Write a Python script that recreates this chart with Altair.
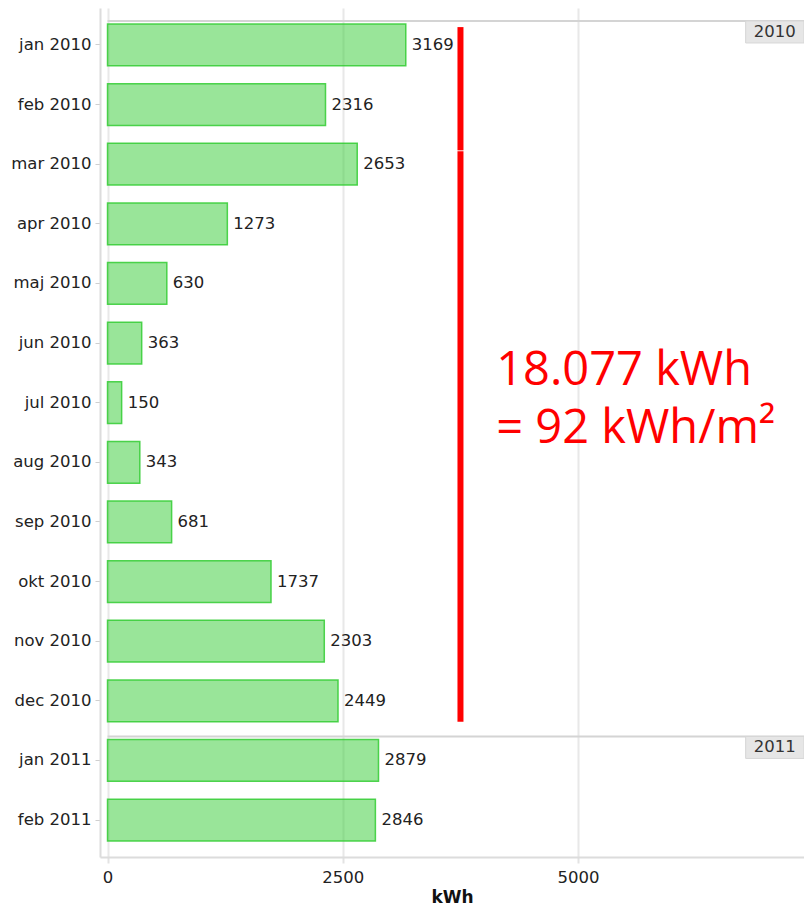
import altair as alt
import pandas as pd

months = ["jan 2010", "feb 2010", "mar 2010", "apr 2010", "maj 2010", "jun 2010",
          "jul 2010", "aug 2010", "sep 2010", "okt 2010", "nov 2010", "dec 2010",
          "jan 2011", "feb 2011"]
kwh = [3169, 2316, 2653, 1273, 630, 363, 150, 343, 681, 1737, 2303, 2449, 2879, 2846]

years = ["2010", "2011"]
year_first_month = ["jan 2010", "jan 2011"]

total_lines = ["18.077 kWh", "= 92 kWh/m²"]
total_span = ["jan 2010", "dec 2010"]

X_MIN, X_MAX = -80, 7400
W, H = 704, 849

df = pd.DataFrame({"month": months, "kwh": kwh})
ydf = pd.DataFrame({"year": years, "month": year_first_month})

xscale = alt.Scale(domain=[X_MIN, X_MAX], nice=False, zero=False)
yscale = alt.Scale(domain=months, paddingInner=0.3, paddingOuter=0.27)

FONT = "DejaVu Sans"
FS = 16.5

xaxis = alt.Axis(values=[0, 2500, 5000], format="d", grid=True, gridColor="#e8e8e8", gridWidth=2,
                 domainColor="#dcdcdc", domainWidth=2, tickColor="#e3e3e3", tickWidth=2,
                 tickSize=6, labelFont=FONT, labelFontSize=FS, labelColor="#222",
                 labelPadding=6, title="kWh", titleFont=FONT, titleFontSize=17,
                 titleFontWeight="bold", titleColor="#111", titlePadding=4)
yaxis = alt.Axis(title=None, grid=False, domainColor="#dcdcdc", domainWidth=2,
                 tickColor="#cfcfcf", tickSize=5, labelFont=FONT, labelFontSize=FS,
                 labelColor="#222", labelPadding=4)

base = alt.Chart(df)

bars = base.mark_bar(fill="#33cc33", fillOpacity=0.5, stroke="#33cc33",
                     strokeOpacity=0.85, strokeWidth=1.5).encode(
    y=alt.Y("month:N", scale=yscale, sort=months, axis=yaxis),
    x=alt.X("kwh:Q", scale=xscale, axis=xaxis),
    x2=alt.datum(0),
)

values = base.mark_text(align="left", baseline="middle", dx=6, font=FONT,
                        fontSize=FS, color="#222").encode(
    y=alt.Y("month:N", sort=months),
    x=alt.X("kwh:Q"),
    text=alt.Text("kwh:Q", format="d"),
)

sep = alt.Chart(ydf).mark_rule(color="#d4d4d4", strokeWidth=2, yOffset=-3).encode(
    y=alt.Y("month:N", sort=months, bandPosition=0),
    x=alt.datum(0),
    x2=alt.datum(X_MAX),
)

box = alt.Chart(ydf).mark_bar(height=22, yOffset=-13, fill="#e6e6e6",
                              stroke="#d6d6d6", strokeWidth=1).encode(
    y=alt.Y("month:N", sort=months),
    x=alt.datum(6780),
    x2=alt.datum(X_MAX),
)

box_text = alt.Chart(ydf).mark_text(align="center", baseline="middle", yOffset=-13,
                                    font=FONT, fontSize=FS, color="#333").encode(
    y=alt.Y("month:N", sort=months),
    x=alt.datum(7090),
    text="year:N",
)

span_df = pd.DataFrame({"start": [total_span[0]], "mid": ["mar 2010"], "end": [total_span[1]]})

red1 = alt.Chart(span_df).mark_rule(color="#ff0000", strokeWidth=6, yOffset=3, y2Offset=7).encode(
    x=alt.datum(3750),
    y=alt.Y("start:N", sort=months, bandPosition=0),
    y2=alt.Y2("mid:N", bandPosition=0),
)
red2 = alt.Chart(span_df).mark_rule(color="#ff0000", strokeWidth=6, yOffset=8).encode(
    x=alt.datum(3750),
    y=alt.Y("mid:N", sort=months, bandPosition=0),
    y2=alt.Y2("end:N", bandPosition=1),
)

txt_df = pd.DataFrame({"label": ["\n".join(total_lines)], "month": ["jul 2010"]})
red_text = alt.Chart(txt_df).mark_text(align="left", baseline="alphabetic", lineBreak="\n",
                                       lineHeight=58, yOffset=-18, font="Open Sans",
                                       fontSize=47, color="#ff0000").encode(
    x=alt.datum(4130),
    y=alt.Y("month:N", sort=months),
    text="label:N",
)

chart = alt.layer(bars, values, sep, box, box_text, red1, red2, red_text).properties(
    width=W, height=H,
    autosize=alt.AutoSizeParams(type="none"),
    padding={"left": 92, "top": 0, "right": 0, "bottom": 55},
).configure_view(stroke=None)

chart.save("out.html", embed_options={"renderer": "svg", "actions": False})
